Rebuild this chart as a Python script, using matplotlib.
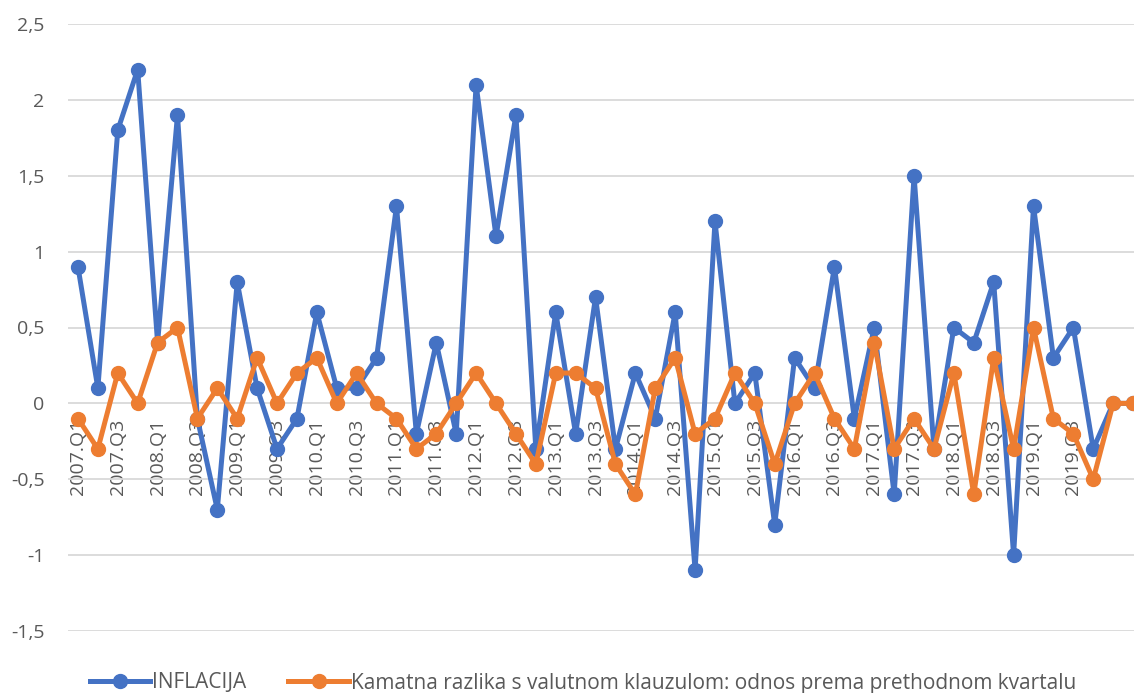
import matplotlib
matplotlib.use("Agg")
import matplotlib.pyplot as plt
from matplotlib.ticker import FixedLocator, FuncFormatter

years = list(range(2007, 2021))
categories = [f"{y}.Q{q}" for y in years for q in range(1, 5)][:54]

inflacija = [0.9, 0.1, 1.8, 2.2, 0.4, 1.9, -0.1, -0.7, 0.8, 0.1,
             -0.3, -0.1, 0.6, 0.1, 0.1, 0.3, 1.3, -0.2, 0.4, -0.2,
             2.1, 1.1, 1.9, -0.3, 0.6, -0.2, 0.7, -0.3, 0.2, -0.1,
             0.6, -1.1, 1.2, 0.0, 0.2, -0.8, 0.3, 0.1, 0.9, -0.1,
             0.5, -0.6, 1.5, -0.3, 0.5, 0.4, 0.8, -1.0, 1.3, 0.3,
             0.5, -0.3, 0.0, 0.0]
kamatna = [-0.1, -0.3, 0.2, 0.0, 0.4, 0.5, -0.1, 0.1, -0.1, 0.3,
           0.0, 0.2, 0.3, 0.0, 0.2, 0.0, -0.1, -0.3, -0.2, 0.0,
           0.2, 0.0, -0.2, -0.4, 0.2, 0.2, 0.1, -0.4, -0.6, 0.1,
           0.3, -0.2, -0.1, 0.2, 0.0, -0.4, 0.0, 0.2, -0.1, -0.3,
           0.4, -0.3, -0.1, -0.3, 0.2, -0.6, 0.3, -0.3, 0.5, -0.1,
           -0.2, -0.5, 0.0, 0.0]
series_names = ["INFLACIJA",
                "Kamatna razlika s valutnom klauzulom: odnos prema prethodnom kvartalu"]
tick_labels = categories[:52:2]
y_ticks = [-1.5, -1.0, -0.5, 0.0, 0.5, 1.0, 1.5, 2.0, 2.5]

plt.rcParams['font.family'] = ['Open Sans', 'DejaVu Sans']
txt = '#595959'

fig = plt.figure(figsize=(11.34, 6.93), dpi=100)
ax = fig.add_axes([68/1134, 1-631/693, (1143-68)/1134, (631-24)/693])

x = list(range(len(categories)))
ax.plot(x, inflacija, color='#4472C4', lw=3.6, marker='o', ms=10,
        label=series_names[0], solid_joinstyle='round', zorder=3)
ax.plot(x, kamatna, color='#ED7D31', lw=3.6, marker='o', ms=10,
        label=series_names[1], solid_joinstyle='round', zorder=4)

ax.set_xlim(-0.5, len(categories) - 0.5)
ax.set_ylim(-1.5, 2.5)
ax.yaxis.set_major_locator(FixedLocator(y_ticks))
ax.yaxis.set_major_formatter(FuncFormatter(
    lambda v, p: (f"{v:g}").replace('.', ',')))
ax.grid(axis='y', color='#D9D9D9', lw=1.3, zorder=0)
ax.set_axisbelow(True)
for s in ['top', 'right', 'left']:
    ax.spines[s].set_visible(False)
ax.spines['bottom'].set_position(('data', 0))
ax.spines['bottom'].set_visible(False)
ax.tick_params(axis='y', length=0, pad=17, labelsize=14, labelcolor=txt)
ax.set_xticks(range(0, 52, 2))
ax.set_xticklabels(tick_labels, rotation=90, fontsize=14, color=txt)
ax.tick_params(axis='x', length=0, pad=11)

leg = fig.legend(loc='center', bbox_to_anchor=(583/1134, 1-683/693), ncol=2,
                 frameon=False, fontsize=15, handlelength=2.9,
                 handletextpad=0.1, columnspacing=2.0, borderaxespad=0)
for t in leg.get_texts():
    t.set_color(txt)

fig.savefig('out.png', dpi=100)
